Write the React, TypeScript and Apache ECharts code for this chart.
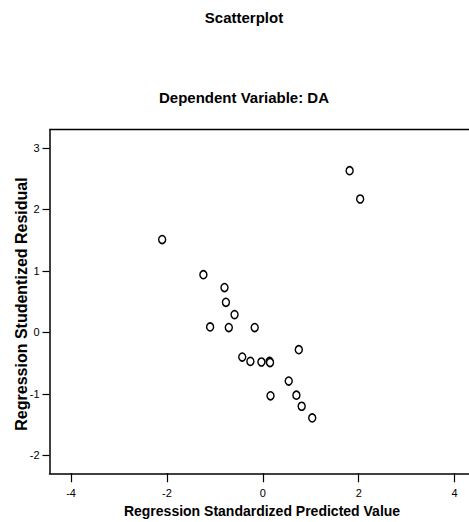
import React, { useEffect, useRef } from "react";
import * as echarts from "echarts";

const predictedValues = [1.81, 2.03, -2.1, -1.24, -0.8, -0.77, -0.59, -1.1, -0.71, -0.17, 0.75, -0.43, -0.26, -0.03, 0.14, 0.15, 0.54, 0.16, 0.7, 0.81, 1.03];
const studentizedResiduals = [2.63, 2.17, 1.51, 0.94, 0.73, 0.49, 0.29, 0.09, 0.08, 0.08, -0.28, -0.4, -0.47, -0.48, -0.47, -0.49, -0.79, -1.03, -1.02, -1.2, -1.39];
const xTicks = [-4, -2, 0, 2, 4];
const yTicks = [-2, -1, 0, 1, 2, 3];

const FONT = "'Liberation Sans', Arial, sans-serif";

export default function App() {
  const ref = useRef<HTMLDivElement>(null);
  useEffect(() => {
    if (!ref.current) return;
    const chart = echarts.init(ref.current, null, { renderer: "svg" });
    const data = predictedValues.map((x, i) => [x, studentizedResiduals[i]]);
    chart.setOption({
      animation: false,
      backgroundColor: "#fff",
      textStyle: { fontFamily: FONT },
      grid: { left: 49.5, right: -0.5, top: 129.5, bottom: 48.7, show: false },
      graphic: [
        { type: "text", x: 244, y: 17, style: { text: "Scatterplot", font: `bold 15px ${FONT}`, fill: "#000", textAlign: "center", textVerticalAlign: "middle" } },
        { type: "text", x: 244, y: 97, style: { text: "Dependent Variable: DA", font: `bold 15px ${FONT}`, fill: "#000", textAlign: "center", textVerticalAlign: "middle" } },
        { type: "text", x: 262, y: 511, style: { text: "Regression Standardized Predicted Value", font: `bold 14px ${FONT}`, fill: "#000", textAlign: "center", textVerticalAlign: "middle" } },
        { type: "text", x: 21, y: 304, rotation: Math.PI / 2, style: { text: "Regression Studentized Residual", font: `bold 16px ${FONT}`, fill: "#000", textAlign: "center", textVerticalAlign: "middle" } },
        { type: "line", shape: { x1: 49.5, y1: 129.5, x2: 469, y2: 129.5 }, style: { stroke: "#000", lineWidth: 1.5 } },
      ],
      xAxis: {
        type: "value",
        min: -4.45,
        max: 4.3,
        position: "bottom",
        splitLine: { show: false },
        axisLine: { show: true, onZero: false, lineStyle: { color: "#000", width: 1.5 } },
        axisTick: { show: true, inside: false, length: 9, customValues: xTicks, lineStyle: { color: "#000", width: 1.2 } },
        axisLabel: { customValues: xTicks, margin: 14, color: "#000", fontSize: 11, fontFamily: FONT },
      },
      yAxis: {
        type: "value",
        min: -2.29,
        max: 3.3,
        position: "left",
        splitLine: { show: false },
        axisLine: { show: true, onZero: false, lineStyle: { color: "#000", width: 1.5 } },
        axisTick: { show: true, inside: false, length: 7, customValues: yTicks, lineStyle: { color: "#000", width: 1.2 } },
        axisLabel: { customValues: yTicks, margin: 10, color: "#000", fontSize: 11, fontFamily: FONT },
      },
      series: [
        {
          type: "scatter",
          data,
          symbol: "circle",
          symbolSize: [7, 8],
          itemStyle: { color: "#fff", borderColor: "#000", borderWidth: 1.5, opacity: 1 },
        },
      ],
    });
    return () => chart.dispose();
  }, []);
  return <div ref={ref} style={{ position: "fixed", left: 0, top: 0, width: 469, height: 522 }} />;
}
